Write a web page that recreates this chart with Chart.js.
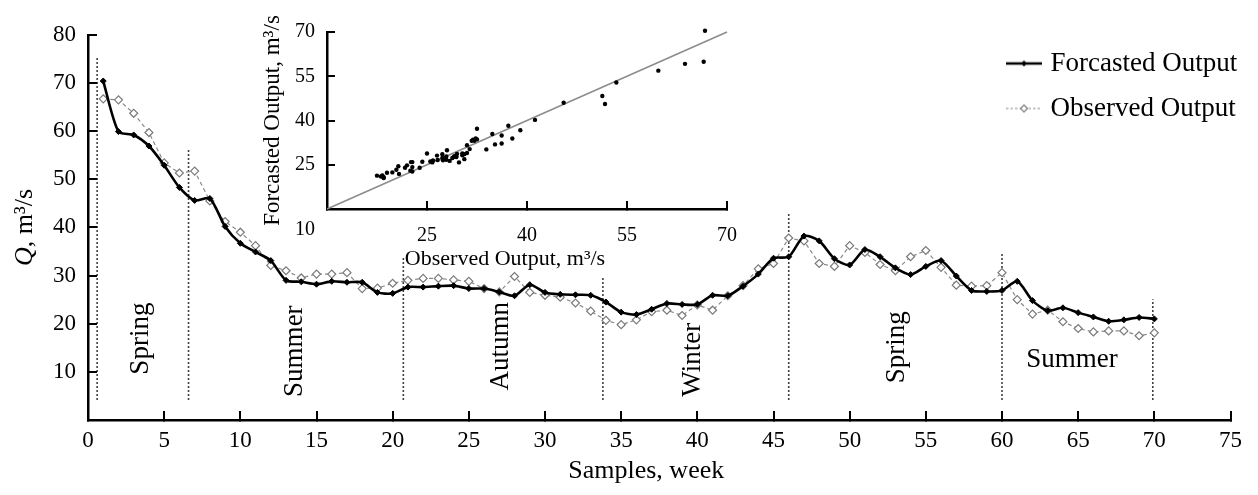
<!DOCTYPE html>
<html>
<head>
<meta charset="utf-8">
<script src="https://cdn.jsdelivr.net/npm/chart.js@4.4.1/dist/chart.umd.min.js"></script>
<style>
html,body{margin:0;padding:0;background:#fff;}
#wrap{position:relative;width:1258px;height:495px;overflow:hidden;}
#main{position:absolute;left:0;top:0;}
#inset{position:absolute;left:250px;top:0;}
</style>
</head>
<body>
<div id="wrap">
<canvas id="main" width="1258" height="495"></canvas>
<canvas id="inset" width="510" height="272"></canvas>
</div>
<script>
// ---------- DATA ----------
const weeks = [1,2,3,4,5,6,7,8,9,10,11,12,13,14,15,16,17,18,19,20,
  21,22,23,24,25,26,27,28,29,30,31,32,33,34,35,36,37,38,39,40,
  41,42,43,44,45,46,47,48,49,50,51,52,53,54,55,56,57,58,59,60,
  61,62,63,64,65,66,67,68,69,70];

const forecasted = [70.4,59.9,59.2,56.9,52.9,48.3,45.6,46.0,40.2,36.7,
  34.9,33.1,29.0,28.7,28.2,28.8,28.6,28.6,26.5,26.3,
  27.6,27.6,27.8,27.9,27.3,27.3,26.6,25.8,28.1,26.5,
  26.1,26.0,25.9,24.5,22.4,21.9,23.0,24.2,24.0,24.0,
  25.9,25.8,27.8,30.3,33.6,33.9,38.2,37.2,33.5,32.2,
  35.4,33.9,31.6,30.2,31.9,33.1,29.9,26.9,26.7,26.9,
  28.8,24.8,22.7,23.3,22.3,21.4,20.5,20.8,21.3,21.0];

const observed = [66.7,66.5,63.7,59.7,53.4,51.3,51.7,45.5,41.2,39.0,
  36.2,32.1,31.0,29.5,30.3,30.3,30.6,27.3,27.4,28.4,
  29.0,29.4,29.4,29.1,28.8,27.3,26.6,29.8,26.5,25.9,
  25.5,24.3,22.6,20.7,19.8,20.8,22.5,22.8,21.7,23.9,
  22.8,25.8,27.9,31.4,32.5,37.8,37.2,32.5,31.9,36.2,
  34.8,32.3,31.0,33.9,35.2,31.7,28.0,27.8,27.9,30.6,
  25.0,22.0,22.8,20.4,19.0,18.3,18.5,18.5,17.5,18.1];

const seriesNames = ['Forcasted Output', 'Observed Output'];

// season boundaries (dotted vertical lines)
const boundaryX = [0.6, 6.6, 20.7, 33.8, 46.0, 60.0, 69.9];
const boundaryTop = [75.4, 56.0, 34.0, 29.6, 43.0, 34.7, 25.1];
const boundaryBottom = 4.2;

// season labels
const seasonNames = ['Spring','Summer','Autumn','Winter','Spring','Summer'];
const seasonX = [3.46, 13.6, 27.1, 39.7, 53.1, 64.6];
const seasonY = [16.9, 14.3, 15.3, 12.5, 15.1, 12.5];
const seasonVertical = [true, true, true, true, true, false];

// axis texts
const xTitle = 'Samples, week';
const yTitleItalic = 'Q';
const yTitleRest = ', m\u00B3/s';
const insetXTitle = 'Observed Output, m\u00B3/s';
const insetYTitle = 'Forcasted Output, m\u00B3/s';

// inset identity line end values
const identityLine = [10, 70];

// ---------- STYLE ----------
const FONT = '"Liberation Serif","Times New Roman",Times,serif';
Chart.defaults.font.family = FONT;
Chart.defaults.color = '#000';

function pts(xs, ys) { return xs.map((x, i) => ({x: x, y: ys[i]})); }

function legendSample(solid) {
  const c = document.createElement('canvas');
  c.width = 36; c.height = 14;
  const g = c.getContext('2d');
  const cy = 7, cx = 18;
  g.strokeStyle = solid ? '#000' : '#8a8a8a';
  g.lineWidth = solid ? 2.5 : 1.2;
  if (!solid) g.setLineDash([2.5, 2]);
  g.beginPath(); g.moveTo(0, cy); g.lineTo(36, cy); g.stroke();
  g.setLineDash([]);
  const r = solid ? 3 : 3.5;
  g.beginPath();
  g.moveTo(cx, cy - r); g.lineTo(cx + r, cy); g.lineTo(cx, cy + r); g.lineTo(cx - r, cy); g.closePath();
  if (solid) { g.fillStyle = '#000'; g.fill(); }
  else { g.fillStyle = '#fff'; g.fill(); g.lineWidth = 1.1; g.strokeStyle = '#7a7a7a'; g.stroke(); }
  return c;
}
const samples = [legendSample(true), legendSample(false)];

const boundaryDatasets = boundaryX.map((bx, i) => ({
  label: 'boundary' + i,
  data: [{x: bx, y: boundaryBottom}, {x: bx, y: boundaryTop[i]}],
  borderColor: '#000', borderWidth: 1.6, borderDash: [1.6, 2.4],
  pointRadius: 0, tension: 0, order: 3
}));

const seasonPlugin = {
  id: 'seasons',
  beforeDatasetsDraw(chart) {
    const ctx = chart.ctx, x = chart.scales.x, y = chart.scales.y;
    ctx.save();
    ctx.font = '27px ' + FONT;
    ctx.fillStyle = '#000';
    ctx.textAlign = 'center';
    ctx.textBaseline = 'middle';
    seasonNames.forEach((t, i) => {
      ctx.save();
      ctx.translate(x.getPixelForValue(seasonX[i]), y.getPixelForValue(seasonY[i]));
      if (seasonVertical[i]) ctx.rotate(-Math.PI / 2);
      ctx.fillText(t, 0, 0);
      ctx.restore();
    });
    ctx.restore();
  }
};

const yTitlePlugin = {
  id: 'ytitle',
  afterDraw(chart) {
    const ctx = chart.ctx, a = chart.chartArea;
    ctx.save();
    ctx.translate(25, (a.top + a.bottom) / 2);
    ctx.rotate(-Math.PI / 2);
    ctx.textBaseline = 'middle';
    ctx.textAlign = 'left';
    ctx.fillStyle = '#000';
    const f1 = 'italic 26px ' + FONT, f2 = '26px ' + FONT;
    ctx.font = f1; const w1 = ctx.measureText(yTitleItalic).width;
    ctx.font = f2; const w2 = ctx.measureText(yTitleRest).width;
    const sx = -(w1 + w2) / 2;
    ctx.font = f1; ctx.fillText(yTitleItalic, sx, 0);
    ctx.font = f2; ctx.fillText(yTitleRest, sx + w1, 0);
    ctx.restore();
  }
};

const legendPlace = {
  id: 'legendPlace',
  afterLayout(chart) {
    const lg = chart.legend;
    if (!lg) return;
    const w = lg.width, h = lg.height;
    lg.left = 993; lg.top = 32;
    lg.right = lg.left + w; lg.bottom = lg.top + h;
  }
};

const axisGrid = {drawOnChartArea: false, drawTicks: true, tickLength: -9, color: '#000', lineWidth: 2};
const axisBorder = {color: '#000', width: 2.5};

new Chart(document.getElementById('main'), {
  type: 'line',
  data: {
    datasets: [
      {
        label: seriesNames[0], data: pts(weeks, forecasted),
        borderColor: '#000', borderWidth: 2.6, tension: 0.25,
        pointStyle: 'rectRot', pointRadius: 3, pointBackgroundColor: '#000',
        pointBorderColor: '#000', pointBorderWidth: 1, order: 0
      },
      {
        label: seriesNames[1], data: pts(weeks, observed),
        borderColor: '#8a8a8a', borderWidth: 1.2, borderDash: [4, 3], tension: 0,
        pointStyle: 'rectRot', pointRadius: 4, pointBackgroundColor: '#fff',
        pointBorderColor: '#7a7a7a', pointBorderWidth: 1.2, order: 1
      }
    ].concat(boundaryDatasets)
  },
  options: {
    responsive: false, animation: false, devicePixelRatio: 1,
    layout: {padding: {top: 16, right: 20, left: 0, bottom: 0}},
    plugins: {
      tooltip: {enabled: false},
      legend: {
        position: 'chartArea', align: 'start',
        labels: {
          usePointStyle: true, pointStyleWidth: 26, padding: 18,
          font: {size: 27}, color: '#000',
          generateLabels(chart) {
            return Chart.defaults.plugins.legend.labels.generateLabels(chart)
              .filter(it => it.datasetIndex < 2)
              .map(it => Object.assign(it, {pointStyle: samples[it.datasetIndex], fontColor: '#000'}));
          }
        }
      }
    },
    scales: {
      x: {
        type: 'linear', min: 0, max: 75,
        afterFit(s) { s.height = 75; },
        ticks: {stepSize: 5, padding: 16, font: {size: 23}, color: '#000', maxRotation: 0, autoSkip: false},
        grid: axisGrid, border: axisBorder,
        title: {display: true, text: xTitle + '    ', font: {size: 26}, color: '#000', padding: {top: 0, bottom: 8}}
      },
      y: {
        min: 0, max: 80,
        afterFit(s) { s.width = 88; },
        ticks: {stepSize: 10, padding: 21, font: {size: 23}, color: '#000', callback: v => v === 0 ? '' : v},
        grid: axisGrid, border: axisBorder
      }
    }
  },
  plugins: [seasonPlugin, yTitlePlugin, legendPlace]
});

// ---------- INSET ----------
const cornerLabel = {
  id: 'cornerLabel',
  afterDraw(chart) {
    const ctx = chart.ctx, x = chart.scales.x, y = chart.scales.y;
    ctx.save();
    ctx.font = '20px ' + FONT;
    ctx.fillStyle = '#000';
    ctx.textAlign = 'center';
    ctx.textBaseline = 'middle';
    ctx.fillText(String(identityLine[0]), x.getPixelForValue(identityLine[0]) - 22, y.getPixelForValue(identityLine[0]) + 21);
    ctx.restore();
  }
};

const insetGrid = {drawOnChartArea: false, drawTicks: true, tickLength: -8, color: '#000', lineWidth: 2};

new Chart(document.getElementById('inset'), {
  type: 'scatter',
  data: {
    datasets: [
      {
        label: 'Observed vs Forcasted', data: pts(observed, forecasted),
        pointRadius: 2.2, pointBackgroundColor: '#000', pointBorderColor: '#000', pointBorderWidth: 0,
        showLine: false, order: 0, clip: false
      },
      {
        type: 'line', label: 'y = x', data: pts(identityLine, identityLine),
        borderColor: '#8c8c8c', borderWidth: 1.6, pointRadius: 0, order: 1, clip: false
      }
    ]
  },
  options: {
    responsive: false, animation: false, devicePixelRatio: 1,
    layout: {padding: {top: 29, right: 15, left: 0, bottom: 0}},
    plugins: {legend: {display: false}, tooltip: {enabled: false}},
    scales: {
      x: {
        type: 'linear', min: 10, max: 70,
        afterFit(s) { s.height = 63; },
        ticks: {stepSize: 15, padding: 23, font: {size: 20}, color: '#000', maxRotation: 0, callback: v => v === 10 ? '' : v},
        grid: insetGrid, border: axisBorder,
        title: {display: true, text: insetXTitle + '        ', font: {size: 22}, color: '#000', padding: {top: 0, bottom: 0}}
      },
      y: {
        type: 'linear', min: 10, max: 70,
        afterFit(s) { s.width = 77; },
        ticks: {stepSize: 15, padding: 20, font: {size: 20}, color: '#000', callback: v => v === 10 ? '' : v},
        grid: insetGrid, border: axisBorder,
        title: {display: true, text: insetYTitle, font: {size: 23}, color: '#000', padding: {top: 9, bottom: 0}}
      }
    }
  },
  plugins: [cornerLabel]
});
</script>
</body>
</html>
